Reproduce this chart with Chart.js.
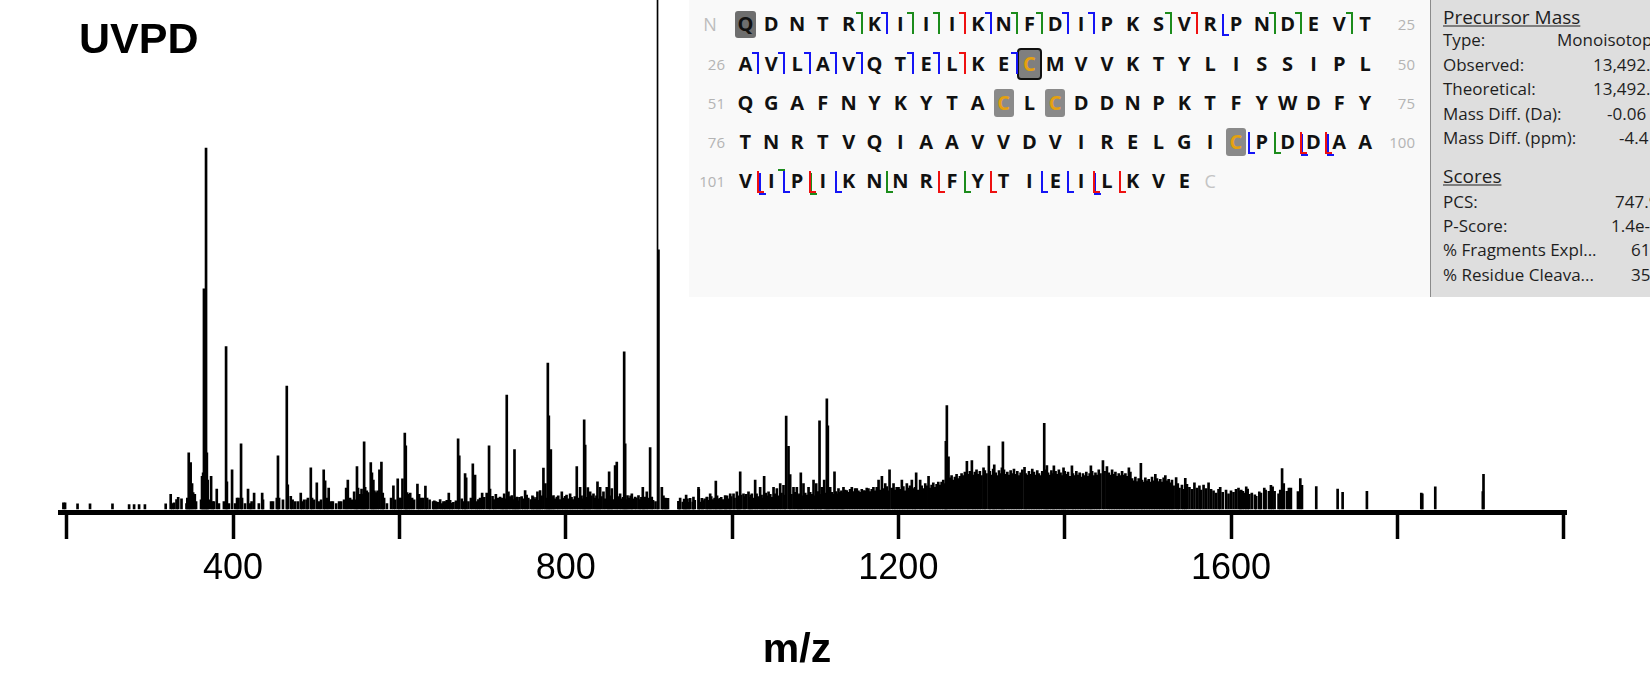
<!DOCTYPE html>
<html lang="en">
<head>
  <meta charset="UTF-8">
  <title>UVPD spectrum</title>
  <script src="https://cdn.jsdelivr.net/npm/chart.js"></script>
  <style>
    html, body { margin: 0; padding: 0; background: #fff; }
    #wrap { position: relative; width: 1650px; height: 675px; overflow: hidden; }
    #spectrum { position: absolute; left: 0; top: 0; }
    .big { position: absolute; font-family: 'Liberation Sans', Arial, sans-serif; font-weight: bold; color: #000; line-height: 1; white-space: nowrap; }
    #seqPanel { position: absolute; left: 689px; top: 0; width: 741px; height: 297px; background: #f9f9f9; }
    #infoPanel { position: absolute; left: 1430px; top: 0; width: 220px; height: 297px; background: #dedede;
      border-left: 1.5px solid #8a8a8a; box-sizing: border-box; overflow: hidden; font-family: 'Open Sans', sans-serif; color: #1e1e1e; }
    .res { position: absolute; transform: translate(-50%, -50%); font-family: 'Open Sans', sans-serif; font-weight: bold;
      font-size: 20px; line-height: 1; color: #111; }
    .num { position: absolute; font-family: 'Open Sans', sans-serif; font-size: 15px; line-height: 1; color: #b4b4b4; }
    .box { position: absolute; box-sizing: border-box; }
    .cut { position: absolute; width: 7px; height: 22px; box-sizing: border-box; }
    .info { position: absolute; transform: translateY(-50%); white-space: nowrap; line-height: 1; font-size: 17px; }
    .head { font-size: 19px; text-decoration: underline; text-underline-offset: 2px; }
  </style>
</head>
<body>
  <div id="wrap">
    <canvas id="spectrum" width="1650" height="675"></canvas>
    <div class="big" style="left:79px; top:17px; font-size:43px;">UVPD</div>
    <div class="big" id="xTitle" style="left:797px; top:648px; font-size:41px; transform:translate(-50%,-50%);">m/z</div>
    <div id="seqPanel"></div>
    <div id="infoPanel"></div>
  </div>

  <script>
    // axis ticks
    const tickValues = [200, 400, 600, 800, 1000, 1200, 1400, 1600, 1800, 2000];
    const tickLabels = [400, 800, 1200, 1600];

    // [m/z, relative intensity]; the first one runs off the top of the plot
    const clippedPeaks = [[910.4, 150]];

    const majorPeaks = [
      [196,1.7],[198,1.7],[213,1.4],[228,1.4],[255,1.4],[275,1.2],[281,1.2],[287,1.2],[294,1.2],[319,1.4],
      [325,4],[327,1.5],[329,1.7],[332,2.6],[334,3.2],[338,2.8],[344,1.5],[345,3],[346.7,15.5],[347.7,6],
      [349,12.8],[350.7,7],[352,4.5],[354,4],[355.5,2],[361.5,2.5],[362.7,9],[364,10],[365,61],[366.3,30],
      [367.5,100],[368.5,15.5],[369.5,8],[371,2.5],[373.6,9],[375.4,2],[377,2],[380.4,5.5],[383,1.5],[389,2],
      [391.6,45],[392.6,7.5],[395,1.5],[398.8,10.8],[402.5,1.5],[404.8,3],[406.6,3],[409.6,18],[410.8,3],[414.4,1.5],
      [418,5.5],[420.5,1.5],[422.3,2],[425.3,4.4],[431,1.5],[435,4.4],[436,2.5],[445.7,2],[448,2],[452.6,3],
      [454,14.7],[455.3,3],[460,2.5],[464.6,34],[465.8,6.7],[469.4,3.5],[471.6,2.5],[474.6,2],[478,2],[481.4,4.4],
      [483,2],[485.4,2.5],[488.4,2.5],[490,3],[493.5,11.4],[495,3],[497.4,2.5],[500.7,7.2],[503.4,2],[505.8,2.5],
      [509,10.8],[510.7,7.8],[513,3],[515,5.8],[518,2],[520,2],[524,1.5],[527.5,2],[530,2],[533.5,2.5],
      [536,5.8],[538,8],[540.7,3],[543,2.5],[545.6,4.7],[547.4,2.5],[549,11.7],[550.3,5.8],[552.7,4],[554.5,5.5],
      [555.8,4],[557.6,18.6],[558.8,6],[560.8,5],[562.4,4.5],[565.6,12.8],[567,10],[568.7,8],[570,5],[572,4.5],
      [573.8,5],[576,10.8],[578.4,13],[580,4.4],[581.6,3],[585,1.5],[590,3],[592.8,6.4],[595,2.5],[598,8.3],
      [599.7,3],[601.5,3],[603.7,8.3],[606.5,21],[607.7,17.5],[609.3,4.5],[611,4],[613,4.4],[615.3,3],[617.7,2.5],
      [621.7,6.9],[623.7,4],[626,3],[628.5,3],[631.3,6.3],[633.3,3],[636.3,2.5],[640.5,2],[644,2],[651,1.5],
      [655,2],[657,2.4],[659.4,4.4],[665,1.8],[670.6,19.4],[672,14.7],[679,9.8],[680.3,8.6],[683,2],[688.3,12.5],
      [691,9.4],[693,2],[697,3],[699.5,4.4],[705,4.4],[707.8,17.5],[709,5.5],[712,3.5],[716,4],[718.5,3],
      [721.1,3.3],[726,4.2],[729.1,31.5],[731.1,4.7],[735.2,3.7],[738.4,16.4],[741.2,3.3],[744.4,3.2],[751.2,5.1],[761.2,3.3],
      [766,4.7],[769.2,5.1],[773.2,11.3],[775.6,7],[778.5,40.4],[779.7,25.8],[782.1,16.4],[785.3,3.7],[789.3,3.3],[795.3,4.7],
      [799.3,3.5],[805.3,4.2],[813.3,11.7],[817.3,6],[822.2,24.7],[823.4,17.7],[826.6,5.9],[829.4,4.7],[833.4,4.2],[838.2,7.5],
      [841.4,6],[845.4,4.7],[849.4,6],[852.2,10.3],[855.4,5.6],[859.4,12],[861.4,13],[865.4,4.2],[870.3,43.5],[871.5,18],
      [874.3,3.7],[879.5,4.2],[883.5,3.3],[887.5,3.7],[892.7,6],[895.5,3.3],[897.5,4.7],[901.5,17],[903.5,3.3],[911.5,71.8],
      [915.6,6],[919.6,3],[937.6,3],[943.6,2.5],[949.6,2.9],[953.6,3.3],[959.7,6],[963.7,2.9],[969.7,3.3],[973.7,4.2],
      [980.5,7.7],[985.7,2.9],[991.7,3.7],[997.8,4.2],[1001.8,4.2],[1005.8,4.7],[1009.8,10.3],[1013.8,4.2],[1019.8,4.7],[1023.8,4.2],
      [1027.8,8],[1033.8,6],[1038.6,9],[1043.9,4.7],[1049.9,6],[1053.9,5.6],[1057.9,7],[1061.9,6.5],[1065.1,25.7],[1067.9,17.3],
      [1069.9,9.5],[1073.9,6],[1077.9,6],[1082.7,10],[1085.9,7],[1092,6],[1098,8],[1101.2,7],[1105.2,24.4],[1108,6],
      [1110.8,8],[1114,30.5],[1115.2,23],[1118,6],[1123.2,10.3],[1128,5.6],[1134,6],[1138,5.1],[1144,6],[1150,5.6],
      [1158,5.1],[1164,5.6],[1170,6],[1176.2,8],[1180.2,9],[1184.2,7],[1189.4,10.8],[1194.2,7],[1200.2,6],[1204.2,8],
      [1210.2,7],[1216.2,8],[1221.4,10],[1226.2,8],[1232.3,7],[1236.3,9],[1257.1,18.7],[1258.3,28.6],[1260.3,14.4],[1282.4,13.2],
      [1288.4,13.4],[1302.4,11.4],[1308.8,17.4],[1315.3,12.2],[1324.5,11.4],[1325.7,18.6],[1351.7,11.5],[1375.4,23.7],[1378.6,12],[1387,11.9],
      [1398.6,11.4],[1408.7,11.9],[1431.5,11.9],[1446,13.4],[1450.8,11.7],[1477.2,11.4],[1491.6,12.6],[1509,9.6],[1521,9.2],[1534,8.7],
      [1545,8.5],[1661.4,11.2],[1663.4,7],[1683.3,8.4],[1685.3,6.5],[1702.5,6.2],[1728.2,5.5],[1734.2,4.6],[1763.4,4.9],[1828.8,4.4],
      [1830,4.2],[1845.6,6.1],[1902.8,4.8],[1903.6,9.6]
    ];

    // the dense low-level signal
    const grassPeaks = [
      [642,2.2],[646,1.8],[649,2.6],[653,2.0],[661,2.4],[663,1.6],[668,2.2],[675,2.8],[677,2.0],[686,3.0],
      [695,2.6],[702,3.2],[714,2.6],[723,3.0],[724.5,2.4],[728,2.8],[733,3.4],[737,2.6],[740,3.0],[743,2.2],
      [747,3.4],[749,2.8],[753,3.8],[755,3.0],[758,2.6],[760,3.6],[763,2.8],[765,3.2],[768,2.4],[771,3.6],
      [777,3.0],[781,2.6],[784,3.4],[787,2.8],[791,3.6],[793,2.6],[797,3.0],[801,3.8],[803,2.8],[807,3.2],
      [809,2.6],[811,3.4],[815,3.0],[819,3.6],[821,2.8],[825,3.2],[828,2.6],[831,3.6],[835,3.0],[837,3.6],
      [840,2.8],[843,3.4],[847,2.8],[851,3.2],[854,3.6],[857,2.6],[863,3.4],[867,2.8],[869,3.2],[873,2.6],
      [876,3.0],[878,3.6],[881,2.8],[885,3.0],[889,2.6],[891,3.2],[894,2.8],[899,3.0],[905,2.4],[908,2.0],
      [917.5,3.6],[921,2.9],[923,2.9],[935.5,2.1],[936.8,1.9],[940.8,1.9],[942.4,2.7],[944.8,3.8],[946.4,2.8],[948,1.8],
      [952.8,1.9],[955.2,2.4],[960,5.4],[961.6,1.9],[964.8,2.3],[967,2.8],[970,3.2],[972,2.4],[975,3.4],[977,2.6],
      [979,3.0],[982,3.6],[984,2.8],[987,3.2],[989,2.6],[992,3.0],[994,3.6],[996,2.8],[999,3.4],[1003,3.0],
      [1007,3.6],[1008,3.2],[1011,3.8],[1015,3.4],[1017,4.0],[1021,3.2],[1022.5,3.8],[1025.5,3.0],[1029.5,4.2],[1031.5,3.4],
      [1035.5,3.8],[1037,3.0],[1040.5,4.4],[1042,3.6],[1046,4.0],[1048,3.2],[1051.5,4.2],[1055.5,3.6],[1059.5,4.4],[1063.5,3.8],
      [1071.5,4.0],[1075.5,4.6],[1079.5,3.8],[1081,4.2],[1084,3.6],[1088,4.4],[1090,3.8],[1094,4.6],[1096,4.0],[1100,3.6],
      [1103,4.8],[1106.5,4.0],[1112.5,4.4],[1116.5,3.8],[1120,4.6],[1121.5,4.0],[1125,4.8],[1126.5,4.2],[1130,4.6],[1131.5,5.0],
      [1133,4.4],[1136,5.2],[1140,4.6],[1142,5.4],[1146,4.8],[1148,5.6],[1152,5.0],[1154,4.6],[1156,5.4],[1160,5.0],
      [1162,5.8],[1166,4.8],[1168,5.4],[1172,5.0],[1174,6.0],[1178,5.2],[1182,5.6],[1186,6.2],[1188,5.0],[1192,5.8],
      [1196,5.2],[1198,6.0],[1202,5.4],[1206,6.2],[1208,5.0],[1212,5.8],[1214,6.4],[1218,5.6],[1220,6.0],[1224,5.2],
      [1228,6.4],[1230,5.6],[1234,6.4],[1238,5.8],[1240,6.6],[1242,7.2],[1244,6.0],[1246,6.8],[1248,7.4],[1250,6.6],
      [1252,7.4],[1254,8.0],[1256,7.0],[1262,8.6],[1264,9.2],[1266,8.0],[1268,8.8],[1270,9.6],[1272,8.4],[1274,9.0],
      [1276,9.8],[1278,9.2],[1280,10.2],[1284,9.6],[1286,10.4],[1290,9.4],[1292,10.2],[1294,10.8],[1296,9.6],[1298,10.4],
      [1300,9.2],[1304,10.6],[1306,9.8],[1310,10.4],[1312,9.4],[1314,11.0],[1317,10.0],[1319,9.2],[1321,10.6],[1323,9.8],
      [1327,10.8],[1329,9.6],[1331,10.2],[1333,9.4],[1335,10.6],[1337,9.8],[1339,11.0],[1341,9.6],[1343,10.4],[1345,9.2],
      [1347,10.0],[1349,10.8],[1353,9.8],[1355,9.4],[1357,10.4],[1359,9.6],[1361,11.0],[1363,10.2],[1365,9.4],[1367,10.6],
      [1369,9.8],[1371,9.2],[1373,10.4],[1377,10.8],[1380,10.0],[1382,9.4],[1384,10.6],[1386,9.8],[1389,10.4],[1391,9.6],
      [1393,10.8],[1395,10.0],[1397,9.2],[1400,10.4],[1402,9.6],[1404,10.2],[1406,9.0],[1410,9.8],[1412,9.2],[1414,10.4],
      [1416,9.4],[1418,10.0],[1420,8.8],[1422,9.8],[1424,9.2],[1426,10.2],[1428,9.0],[1430,9.8],[1433,10.4],[1435,9.2],
      [1437,10.0],[1439,9.4],[1441,10.8],[1443,9.8],[1448,10.4],[1453,10.0],[1455,9.4],[1457,10.8],[1459,9.6],[1461,10.2],
      [1463,9.0],[1465,9.8],[1467,9.2],[1469,10.4],[1471,9.4],[1473,9.8],[1475,9.0],[1479,10.2],[1481,8.4],[1483,7.8],
      [1485,8.8],[1487,7.6],[1489,8.4],[1493,8.0],[1495,7.4],[1497,8.6],[1499,7.8],[1501,8.2],[1503,7.4],[1505,8.8],
      [1507,7.8],[1511,8.4],[1513,7.6],[1515,8.2],[1517,7.4],[1519,8.6],[1523,7.8],[1525,8.2],[1527,7.2],[1529,8.0],
      [1531,6.4],[1536,7.0],[1538,5.8],[1541,6.6],[1543,5.4],[1547,6.8],[1550,6.0],[1553,5.4],[1556,7.2],[1559,5.8],
      [1562,6.4],[1564,5.2],[1567,6.6],[1570,5.6],[1573,7.2],[1576,5.4],[1579,5.0],[1582,4.4],[1585,5.4],[1587,6.0],
      [1590,4.6],[1594,5.2],[1597,4.2],[1600,5.0],[1603,4.6],[1606,5.4],[1609,5.8],[1611,5.0],[1612.3,5.2],[1614.3,4.9],
      [1616.3,4.4],[1618.3,6.1],[1620,5.5],[1622,4.0],[1625,4.4],[1628.7,3.9],[1630.3,3.5],[1634,4.7],[1636,4.4],[1640,5.8],
      [1641.6,5.2],[1645.6,4.9],[1648,6.5],[1650,6.1],[1652.4,4.9],[1657.2,4.2],[1659.2,5.2],[1667.2,4.9],[1669.6,5.8],[1672,5.8],
      [1680.5,4.8]
    ];

    // sequence coverage panel
    const sequenceRows = [
      'QDNTRKIIIKNFDIPKSVRPNDEVT',
      'AVLAVQTELKECMVVKTYLISSIPL',
      'QGAFNYKYTACLCDDNPKTFYWDFY',
      'TNRTVQIAAVVDVIRELGICPDDAA',
      'VIPIKNNRFYTIEILKVE'
    ];
    const rowStartNumbers = ['N', '26', '51', '76', '101'];
    const rowEndNumbers = ['25', '50', '75', '100', ''];
    // [row, index, kind]
    const modifiedSites = [[0, 0, 'nterm'], [1, 11, 'cysBox'], [2, 10, 'cys'], [2, 12, 'cys'], [3, 19, 'cys']];
    const G = '#1c8c1c', B = '#1515f5', R = '#ee1111';
    // [row, gap after index, top/bottom, colour, second colour]
    const cleavages = [
      [0,4,'t',G],[0,5,'t',B],[0,6,'t',G],[0,7,'t',G],[0,8,'t',R],[0,9,'t',B],[0,10,'t',G],[0,11,'t',G],
      [0,12,'t',B],[0,13,'t',B],[0,16,'t',G],[0,17,'t',R],[0,18,'b',B],[0,20,'t',G],[0,21,'t',G],[0,23,'t',G],
      [1,0,'t',B],[1,1,'t',B],[1,2,'t',B],[1,3,'t',B],[1,4,'t',B],[1,6,'t',B],[1,7,'t',B],[1,8,'t',R],[1,10,'t',B],
      [3,19,'b',B],[3,20,'b',G],[3,21,'b',R,B],[3,22,'b',R,B],
      [4,0,'b',R,B],[4,1,'t',G],[4,1,'b',B],[4,2,'b',R,G],[4,3,'b',B],[4,5,'b',G],[4,7,'b',R],[4,8,'b',G],
      [4,9,'b',R],[4,11,'b',B],[4,12,'b',B],[4,13,'b',R,B],[4,14,'b',R]
    ];

    // info panel: [label, value, y, value x]
    const precursorRows = [
      ['Type:', 'Monoisotopic', 39, 126],
      ['Observed:', '13,492.92', 63.5, 162],
      ['Theoretical:', '13,492.98', 88, 162],
      ['Mass Diff. (Da):', '-0.06', 112.5, 176],
      ['Mass Diff. (ppm):', '-4.4', 136.8, 188]
    ];
    const scoreRows = [
      ['PCS:', '747.9', 201, 184],
      ['P-Score:', '1.4e-9', 225, 180],
      ['% Fragments Expl...', '61', 249, 200],
      ['% Residue Cleava...', '35', 273.5, 200]
    ];

    const toXY = list => list.map(([x, y]) => ({ x, y }));
    const ink = '#000';

    const ctx = document.getElementById('spectrum').getContext('2d');
    const spectrumChart = new Chart(ctx, {
      type: 'bar',
      data: {
        datasets: [
          { label: 'clipped', data: toXY(clippedPeaks), barThickness: 1, backgroundColor: ink, borderWidth: 0 },
          { label: 'peaks', data: toXY(majorPeaks), barThickness: 2, backgroundColor: ink, borderWidth: 0 },
          { label: 'grass', data: toXY(grassPeaks), barThickness: 2, backgroundColor: ink, borderWidth: 0 }
        ]
      },
      options: {
        responsive: false,
        animation: false,
        layout: { padding: { left: 60.5, right: 84, top: 0, bottom: 76.8 } },
        datasets: { bar: { grouped: false } },
        plugins: { legend: { display: false }, tooltip: { enabled: false }, colors: { enabled: false } },
        scales: {
          x: {
            type: 'linear',
            min: 192.5,
            max: 2002.8,
            offset: false,
            afterBuildTicks: axis => { axis.ticks = tickValues.map(v => ({ value: v })); },
            grid: { offset: false, drawOnChartArea: false, drawTicks: true, tickLength: 26.5, tickWidth: 3.5, tickColor: '#000' },
            border: { display: true, width: 5, color: '#000' },
            ticks: {
              autoSkip: false, maxRotation: 0, padding: 8, color: '#000',
              font: { family: "'Liberation Sans', Arial, sans-serif", size: 36 },
              callback: v => tickLabels.includes(v) ? String(v) : ''
            }
          },
          y: { display: false, min: -1, max: 141 }
        }
      }
    });

    // build the sequence panel
    const seqPanel = document.getElementById('seqPanel');
    const rowY = [24, 63.5, 103, 142, 180.5];
    const colX = i => 56.4 + i * 25.82;

    function add(parent, cls, css, text) {
      const el = document.createElement('div');
      el.className = cls;
      Object.assign(el.style, css);
      if (text !== undefined) el.textContent = text;
      parent.appendChild(el);
      return el;
    }

    modifiedSites.forEach(([r, i, kind]) => {
      const cx = colX(i), cy = rowY[r];
      if (kind === 'nterm') {
        add(seqPanel, 'box', { left: (cx - 10.5) + 'px', top: (cy - 13.5) + 'px', width: '21px', height: '27px', background: '#6e6e6e', borderRadius: '3px' });
      } else if (kind === 'cysBox') {
        add(seqPanel, 'box', { left: (cx - 12.5) + 'px', top: (cy - 16) + 'px', width: '25px', height: '32px', background: '#7f7f7f', border: '2px solid #111', borderRadius: '4px' });
      } else {
        add(seqPanel, 'box', { left: (cx - 10) + 'px', top: (cy - 14) + 'px', width: '20px', height: '28px', background: '#8a8a8a', borderRadius: '3px' });
      }
    });

    function drawCut(gx, cy, type, color, dx, dy) {
      if (type === 't') {
        add(seqPanel, 'cut', { left: (gx - 6 + dx) + 'px', top: (cy - 12 + dy) + 'px', borderTop: '2px solid ' + color, borderRight: '2px solid ' + color });
      } else {
        add(seqPanel, 'cut', { left: (gx - 1 + dx) + 'px', top: (cy - 10 + dy) + 'px', borderBottom: '2px solid ' + color, borderLeft: '2px solid ' + color });
      }
    }
    cleavages.forEach(([r, i, type, c1, c2]) => {
      const gx = colX(i) + 12.9, cy = rowY[r];
      if (c2) drawCut(gx, cy, type, c2, 1.5, 2);
      drawCut(gx, cy, type, c1, 0, 0);
    });

    const cysSet = new Set(modifiedSites.filter(s => s[2] !== 'nterm').map(s => s[0] + ':' + s[1]));
    sequenceRows.forEach((row, r) => {
      [...row].forEach((aa, i) => {
        const el = add(seqPanel, 'res', { left: colX(i) + 'px', top: rowY[r] + 'px' }, aa);
        if (cysSet.has(r + ':' + i)) el.style.color = '#e5a10f';
      });
      const start = rowStartNumbers[r];
      if (start === 'N') {
        add(seqPanel, 'num', { left: '21px', top: rowY[r] + 'px', transform: 'translate(-50%,-50%)', fontSize: '18px', color: '#bdbdbd' }, start);
      } else {
        add(seqPanel, 'num', { left: '36px', top: rowY[r] + 'px', transform: 'translate(-100%,-50%)' }, start);
      }
      if (rowEndNumbers[r]) {
        add(seqPanel, 'num', { left: '726px', top: rowY[r] + 'px', transform: 'translate(-100%,-50%)' }, rowEndNumbers[r]);
      }
    });
    // C-terminus marker after the last residue
    add(seqPanel, 'num', { left: colX(18) + 'px', top: rowY[4] + 'px', transform: 'translate(-50%,-50%)', fontSize: '18px', color: '#c4c4c4' }, 'C');

    // info panel
    const infoPanel = document.getElementById('infoPanel');
    add(infoPanel, 'info head', { left: '12px', top: '16.8px' }, 'Precursor Mass');
    add(infoPanel, 'info head', { left: '12px', top: '175.7px' }, 'Scores');
    [...precursorRows, ...scoreRows].forEach(([label, value, y, vx]) => {
      add(infoPanel, 'info', { left: '12px', top: y + 'px' }, label);
      add(infoPanel, 'info', { left: vx + 'px', top: y + 'px' }, value);
    });
  </script>
</body>
</html>
